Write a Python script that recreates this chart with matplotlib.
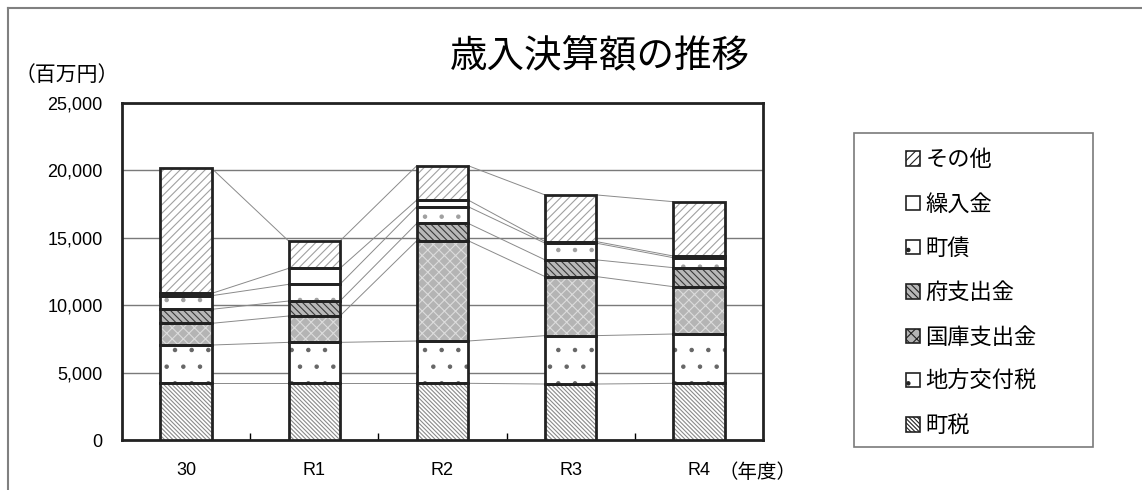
import numpy as np
import matplotlib.pyplot as plt
from matplotlib.patches import Patch, Rectangle
from matplotlib.lines import Line2D

plt.rcParams['font.family'] = ['Noto Sans CJK JP', 'DejaVu Sans']
plt.rcParams['hatch.linewidth'] = 0.8

years = ['30', 'R1', 'R2', 'R3', 'R4']
# 百万円, bottom to top
chozei = [4206, 4206, 4206, 4154, 4206]
chiho_kofuzei = [2840, 3039, 3138, 3590, 3658]
kokko = [1610, 1954, 7444, 4380, 3511]
fu = [1040, 1112, 1285, 1240, 1410]
chosai = [1010, 1236, 1237, 1237, 740]
kurire = [170, 1188, 494, 120, 125]
sonota = [9275, 2028, 2546, 3460, 4030]

series = [chozei, chiho_kofuzei, kokko, fu, chosai, kurire, sonota]
names = ['町税', '地方交付税', '国庫支出金', '府支出金', '町債', '繰入金', 'その他']

# facecolor, hatch, hatch colour
styles = [
    ('white', '\\' * 8, '#8a8a8a'),
    ('white', '.', '#666666'),
    ('#b4b4b4', 'xxx', '#dcdcdc'),
    ('#b8b8b8', '\\' * 5, '#3a3a3a'),
    ('white', '.', '#a0a0a0'),
    ('white', '', 'white'),
    ('white', '////', '#a0a0a0'),
]

num_font = ['Liberation Sans', 'Noto Sans CJK JP']

fig = plt.figure(figsize=(11.42, 4.90), dpi=100)
ax = fig.add_axes([0.1068, 0.102, 0.5613, 0.6878])

x = np.arange(len(years))
w = 0.4
bottom = np.zeros(len(years))
tops = []
for vals, (fc, hatch, hc) in zip(series, styles):
    vals = np.array(vals, dtype=float)
    ax.bar(x, vals, w, bottom=bottom, color=fc, hatch=hatch, edgecolor=hc,
           linewidth=0, zorder=3)
    ax.bar(x, vals, w, bottom=bottom, fill=False, edgecolor='#222222',
           linewidth=2, zorder=4)
    bottom = bottom + vals
    tops.append(bottom.copy())

# series lines between bars
for lvl in tops:
    for i in range(len(years) - 1):
        ax.plot([x[i] + w / 2, x[i + 1] - w / 2], [lvl[i], lvl[i + 1]],
                color='#8a8a8a', lw=0.7, zorder=2)

ax.set_xlim(-0.5, len(years) - 0.5)
ax.set_ylim(0, 25000)
ax.set_yticks(range(0, 25001, 5000))
ax.set_yticklabels([f'{v:,}' for v in range(0, 25001, 5000)],
                   fontsize=13, family=num_font)
ax.set_xticks(x)
ax.set_xticklabels(years, fontsize=13, family=num_font)
ax.set_xticks(np.arange(0.5, len(years) - 1, 1), minor=True)
ax.tick_params(axis='x', which='major', length=0, pad=16)
ax.tick_params(axis='x', which='minor', direction='in', length=5, width=1)
ax.tick_params(axis='y', direction='in', length=0, pad=14)
ax.yaxis.grid(True, color='#7a7a7a', lw=1, zorder=0)
ax.set_axisbelow(True)
for sp in ax.spines.values():
    sp.set_linewidth(2)
    sp.set_color('#222222')

fig.text(0.525, 0.884, '歳入決算額の推移', fontsize=27, ha='center', va='center')
fig.text(0.058, 0.847, '（百万円）', fontsize=15, ha='center', va='center')
fig.text(0.663, 0.036, '（年度）', fontsize=14, ha='center', va='center')

# outer border
fig.add_artist(Line2D([0.007, 1.0], [0.984, 0.984], color='#808080', lw=1.5))
fig.add_artist(Line2D([0.007, 0.007], [0.0, 0.984], color='#808080', lw=1.5))

# legend frame
fig.add_artist(Rectangle((854 / 1142, 1 - 447 / 490), 239 / 1142, 314 / 490,
                         fill=False, edgecolor='#7a7a7a', lw=1.2))
handles = [Patch(facecolor=fc, hatch=h, edgecolor='#222222', lw=1.2)
           for fc, h, hc in styles]
leg = fig.legend(handles[::-1], names[::-1], loc='upper left',
                 bbox_to_anchor=(0.784, 0.72), frameon=False, fontsize=16,
                 handlelength=0.6, handleheight=0.6, handletextpad=0.25,
                 labelspacing=0.96, borderpad=0)

fig.savefig('out.png', dpi=100)
